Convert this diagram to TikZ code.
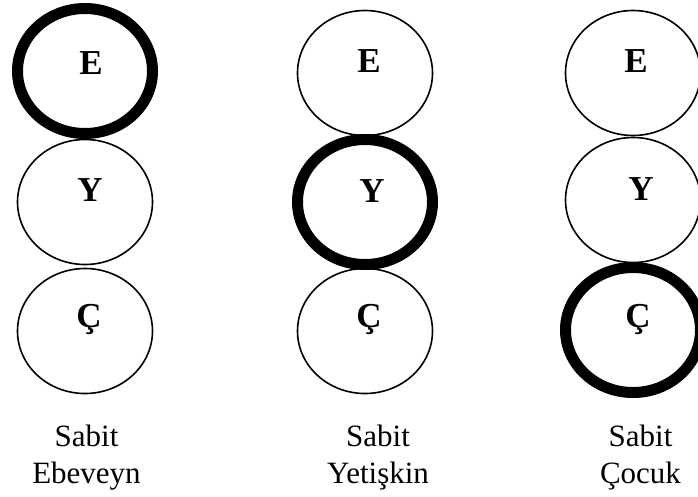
\documentclass[tikz,border=0pt]{standalone}
\usepackage{fontspec}
\setmainfont{Liberation Serif}
\usetikzlibrary{shapes.geometric}
\tikzset{
  ring/.style={shape=ellipse, draw=black, line width=1.6pt, inner sep=0pt,
    minimum width=135pt, minimum height=125pt},
  thickring/.style={ring, line width=11pt},
  letter/.style={anchor=base, inner sep=0pt, font=\fontsize{35}{40}\selectfont\bfseries},
  caption/.style={anchor=base, inner sep=0pt, font=\fontsize{31}{37}\selectfont}
}
\begin{document}
\begin{tikzpicture}[x=1pt,y=-1pt]
\useasboundingbox (0,0) rectangle (698,496);
% column 1: Sabit Ebeveyn
\node[ring] (y1) at (85,202) {};
\node[ring] (c1) at (85,331) {};
\node[thickring] (e1) at (85,71) {};
% column 2: Sabit Yetiskin
\node[ring] (e2) at (365,73) {};
\node[ring] (c2) at (365,331) {};
\node[thickring] (y2) at (365,202) {};
% column 3: Sabit Cocuk
\node[ring] (e3) at (633,73) {};
\node[ring] (y3) at (633,200) {};
\node[thickring] (c3) at (633,330) {};
% letters
\node[letter] (le1) at (91,74) {E};
\node[letter] (ly1) at (90,201) {Y};
\node[letter] (lc1) at (89,327) {Ç};
\node[letter] (le2) at (369,72) {E};
\node[letter] (ly2) at (372,202) {Y};
\node[letter] (lc2) at (369,327) {Ç};
\node[letter] (le3) at (636,72) {E};
\node[letter] (ly3) at (641,200) {Y};
\node[letter] (lc3) at (638,327) {Ç};
% captions
\node[caption] (s1) at (86.5,446) {Sabit};
\node[caption] (t1) at (86.5,483.5) {Ebeveyn};
\node[caption] (s2) at (378,446) {Sabit};
\node[caption] (t2) at (378,483.5) {Yetişkin};
\node[caption] (s3) at (640.5,446) {Sabit};
\node[caption] (t3) at (640.5,483.5) {Çocuk};
\end{tikzpicture}
\end{document}
